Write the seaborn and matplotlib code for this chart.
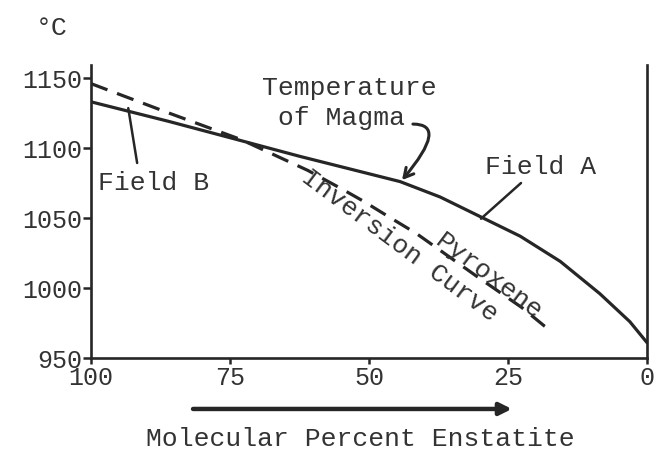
import matplotlib
matplotlib.use("Agg")
import matplotlib.pyplot as plt
import pandas as pd
import seaborn as sns

# ---- data ----
x_ticks = [100, 75, 50, 25, 0]
y_ticks = [950, 1000, 1050, 1100, 1150]

magma_pct = [100, 86, 73.7, 62.4, 53.4, 44.4, 37.2, 30, 22.8, 15.6, 8.5, 3.1, 0]
magma_temp = [1133, 1119, 1106, 1094, 1085, 1076, 1065, 1051, 1037, 1019, 996, 976, 961]

inversion_pct = [100, 86, 73, 61, 55, 51, 46.5, 41.5, 30.5, 22.5, 18.5, 17]
inversion_temp = [1146, 1125, 1106, 1084, 1071, 1062, 1051, 1039, 1008, 986, 973, 969]

INK = "#262626"
TXT = "#333333"

sns.set_theme(style="white")
plt.rcParams["font.family"] = ["Liberation Mono", "DejaVu Sans Mono"]

W, H = 662, 466
fig = plt.figure(figsize=(W / 100, H / 100), dpi=100)
fig.patch.set_facecolor("white")
ax = fig.add_axes([91 / W, 108 / H, 556 / W, 293 / H])
ax.set_facecolor("white")

magma = pd.DataFrame({"pct": magma_pct, "temp": magma_temp})
inversion = pd.DataFrame({"pct": inversion_pct, "temp": inversion_temp})

sns.lineplot(data=magma, x="pct", y="temp", ax=ax, color=INK, lw=2.3, sort=False)
sns.lineplot(data=inversion, x="pct", y="temp", ax=ax, color=INK, lw=2.3,
             linestyle=(0, (5.5, 3.2)), sort=False)

ax.set_xlim(100, 0)
ax.set_ylim(950, 1159.3)
ax.set_xticks(x_ticks)
ax.set_xticklabels([str(v) for v in x_ticks])
ax.set_yticks(y_ticks)
ax.set_yticklabels([str(v) for v in y_ticks])

for side in ["left", "right", "bottom"]:
    ax.spines[side].set_visible(True)
    ax.spines[side].set_color(INK)
    ax.spines[side].set_linewidth(1.9)
ax.spines["top"].set_visible(False)

ax.tick_params(axis="both", which="major", direction="out", color=INK, width=1.8,
               labelcolor=TXT, labelsize=18)
ax.tick_params(axis="y", length=6, pad=0.5, left=True)
ax.tick_params(axis="x", length=4, pad=1.5, bottom=True)
ax.set_xlabel("Molecular Percent Enstatite", fontsize=19, color=TXT)
ax.xaxis.set_label_coords((360 - 91) / 556, (358 - 427) / 293)
ax.set_ylabel("")

# text annotations
ax.text(107, 1185.7, "°C", fontsize=19, color=TXT, ha="center", va="center", clip_on=False)
ax.text(53.6, 1142.9, "Temperature", fontsize=19, color=TXT, ha="center", va="center")
ax.text(54.9, 1121.4, "of Magma", fontsize=19, color=TXT, ha="center", va="center")
ax.text(19.1, 1086.4, "Field A", fontsize=19, color=TXT, ha="center", va="center")
ax.text(88.8, 1075, "Field B", fontsize=19, color=TXT, ha="center", va="center")
ax.text(44.4, 1030, "Inversion Curve", fontsize=19, color=TXT, ha="center", va="center",
        rotation=-36.7, rotation_mode="anchor")
ax.text(28.4, 1007.9, "Pyroxene", fontsize=19, color=TXT, ha="center", va="center",
        rotation=-37, rotation_mode="anchor")

# pointer arrow for "Temperature of Magma"
ax.annotate("", xy=(44.06, 1077.1), xytext=(42.1, 1117.1),
            arrowprops=dict(arrowstyle="->,head_length=0.55,head_width=0.3",
                            connectionstyle="angle3,angleA=0,angleB=50",
                            lw=2.2, color=INK, shrinkA=0, shrinkB=0))
# leader lines for field labels
ax.annotate("", xy=(29.86, 1049.5), xytext=(22.66, 1075),
            arrowprops=dict(arrowstyle="-", lw=1.8, color=INK, shrinkA=0, shrinkB=0))
ax.annotate("", xy=(93.3, 1128.5), xytext=(91.7, 1089.3),
            arrowprops=dict(arrowstyle="-", lw=1.8, color=INK, shrinkA=0, shrinkB=0))
# direction arrow under the x axis
ax.annotate("", xy=(24.3, 913.6), xytext=(81.65, 913.6), annotation_clip=False,
            arrowprops=dict(arrowstyle="-|>,head_length=0.6,head_width=0.3",
                            lw=3.2, color=INK, shrinkA=0, shrinkB=0))

fig.savefig("out.png", dpi=100, facecolor="white")
